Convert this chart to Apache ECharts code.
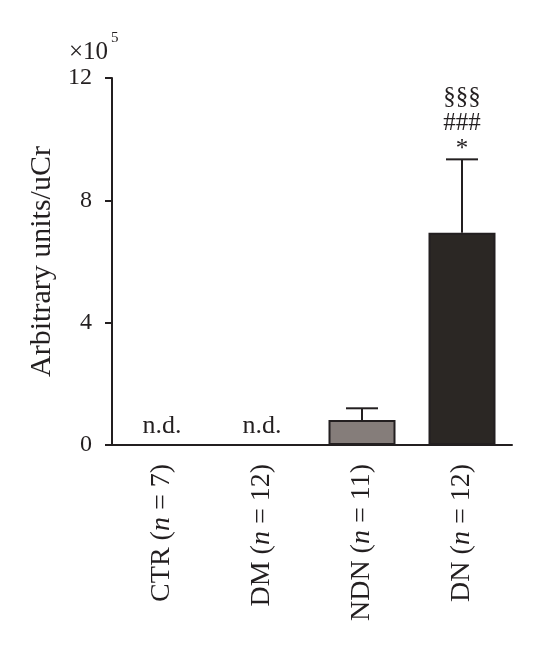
<!DOCTYPE html>
<html><head><meta charset="utf-8">
<script src="https://cdn.jsdelivr.net/npm/echarts@6/dist/echarts.min.js"></script>
<style>html,body{margin:0;padding:0;background:#fff}#c{width:542px;height:660px}</style>
</head><body><div id="c"></div>
<script>
var groups = ['CTR', 'DM', 'NDN', 'DN'];
var nValues = [7, 12, 11, 12];
var means = [null, null, 0.82, 6.94];        // ×10^5
var errorTops = [null, null, 1.2, 9.34];     // mean + SD, ×10^5
var notes = ['n.d.', 'n.d.', '', ''];
var signif = ['', '', '', '§§§\n###\n*'];
var yTicks = [0, 4, 8, 12];

var ink = '#231f20';
var barColors = ['#857d7a', '#857d7a', '#857d7a', '#2b2724'];
var font = 'Liberation Serif';

var chart = echarts.init(document.getElementById('c'));
var catLabels = groups.map(function (g, i) { return g + ' ({i|n} = ' + nValues[i] + ')'; });

chart.setOption({
  animation: false,
  grid: { left: 112, right: 30, top: 78, bottom: 215 },
  xAxis: {
    type: 'category',
    data: catLabels,
    axisLine: { lineStyle: { color: ink, width: 2 } },
    axisTick: { alignWithLabel: true, length: 10, lineStyle: { color: ink, width: 2 } },
    axisLabel: {
      rotate: 90, margin: 19, color: ink, fontFamily: font, fontSize: 28,
      rich: { i: { fontStyle: 'italic', fontFamily: font, fontSize: 28, color: ink } }
    }
  },
  yAxis: {
    type: 'value', min: yTicks[0], max: yTicks[yTicks.length - 1], interval: 4,
    name: 'Arbitrary units/uCr', nameLocation: 'middle', nameGap: 49,
    nameTextStyle: { fontFamily: font, fontSize: 30, color: ink },
    axisLine: { show: true, lineStyle: { color: ink, width: 2 } },
    axisTick: { show: true, length: 7, lineStyle: { color: ink, width: 2 } },
    axisLabel: { margin: 20, color: ink, fontFamily: font, fontSize: 24 },
    splitLine: { show: false }
  },
  graphic: [
    { type: 'text', left: 69, top: 40, style: { text: '×10', fill: ink, font: '25px ' + font } },
    { type: 'text', left: 111, top: 31, style: { text: '5', fill: ink, font: '15px ' + font } }
  ],
  series: [
    {
      type: 'bar', barWidth: 67,
      data: means.map(function (v, i) {
        return { value: v, itemStyle: { color: barColors[i], borderColor: ink, borderWidth: 2 } };
      }),
      z: 2
    },
    {
      type: 'custom', z: 3,
      data: groups.map(function (g, i) { return [i, means[i], errorTops[i]]; }),
      renderItem: function (params, api) {
        var i = api.value(0);
        var children = [];
        var m = means[i], t = errorTops[i];
        if (m != null && t != null) {
          var p0 = api.coord([i, m]);
          var p1 = api.coord([i, t]);
          children.push({ type: 'line', shape: { x1: p0[0], y1: p0[1], x2: p1[0], y2: p1[1] }, style: { stroke: ink, lineWidth: 2 } });
          children.push({ type: 'line', shape: { x1: p1[0] - 16, y1: p1[1], x2: p1[0] + 16, y2: p1[1] }, style: { stroke: ink, lineWidth: 2 } });
          if (signif[i]) {
            var lines = signif[i].split('\n').reverse();
            lines.forEach(function (s, k) {
              children.push({ type: 'text', x: p1[0], y: p1[1] - 9.5 - k * 26,
                style: { text: s, fill: ink, font: '25px ' + font, align: 'center', verticalAlign: 'middle' } });
            });
          }
        }
        if (notes[i]) {
          var pz = api.coord([i, 0]);
          children.push({ type: 'text', x: pz[0], y: pz[1] - 6,
            style: { text: notes[i], fill: ink, font: '26px ' + font, align: 'center', verticalAlign: 'bottom' } });
        }
        return { type: 'group', children: children };
      }
    }
  ]
});
</script></body></html>
